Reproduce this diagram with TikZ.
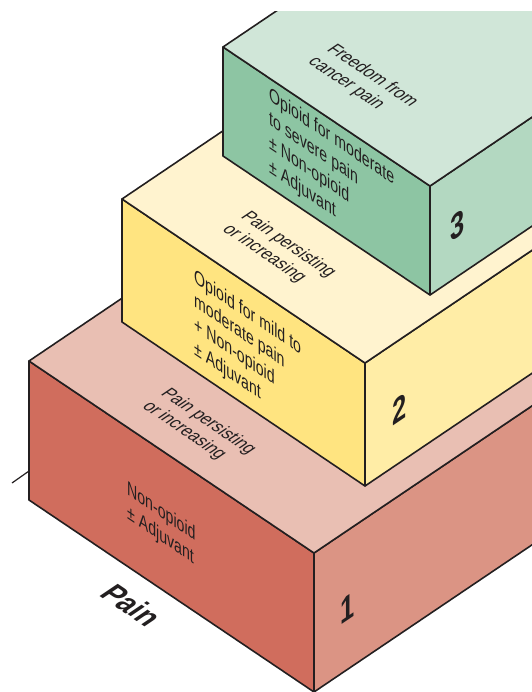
\documentclass[tikz,border=0pt]{standalone}
\usepackage{fontspec}
\setmainfont{Liberation Sans}
\definecolor{ink}{HTML}{231F20}
\definecolor{front1}{HTML}{D06D5D}
\definecolor{side1}{HTML}{DB9484}
\definecolor{top1}{HTML}{E9BFB3}
\definecolor{front2}{HTML}{FFE480}
\definecolor{side2}{HTML}{FFEDA6}
\definecolor{top2}{HTML}{FFF3CF}
\definecolor{front3}{HTML}{8DC5A3}
\definecolor{side3}{HTML}{B3D8C1}
\definecolor{top3}{HTML}{D0E6D8}

\begin{document}
\begin{tikzpicture}
[x=1bp,y=-1bp,
face/.style={draw=ink,line width=1.6pt,line join=round},
fronttext/.style={cm={0.71,-0.479,0,1,(0,0)},anchor=north west,align=left,inner sep=0pt,text=ink,font=\fontsize{20}{24}\selectfont},
toptext/.style={cm={0.71,-0.479,0.829,0.559,(0,0)},align=left,inner sep=0pt,text=ink,font=\fontsize{19}{22.5}\selectfont},
sidenum/.style={cm={0.71,0.479,0,1,(0,0)},inner sep=0pt,text=ink,font=\fontsize{36}{40}\selectfont\bfseries}]
\useasboundingbox (0,0) rectangle (532,692);
\begin{scope}
\clip (0,12) rectangle (532,692);
\coordinate (axisout) at (12,483);
\coordinate (axisin) at (29,471);
\draw[ink,line width=1.2pt] (axisout) -- (axisin);
\foreach \i/\ax/\ay/\bx/\by/\h in {1/29/361/314/553/139,2/122/199/365/363/123,3/223/47/430/186/109}{
\coordinate (a\i) at (\ax,\ay);
\coordinate (b\i) at (\bx,\by);
\coordinate (c\i) at (\bx,\by+\h);
\coordinate (d\i) at (\ax,\ay+\h);
\coordinate (e\i) at (\bx+400,\by+\h-270);
\coordinate (f\i) at (\bx+400,\by-270);
\coordinate (g\i) at (\ax+400,\ay-270);
\filldraw[face,fill=front\i] (a\i) -- (b\i) -- (c\i) -- (d\i) -- cycle;
\filldraw[face,fill=side\i] (b\i) -- (f\i) -- (e\i) -- (c\i) -- cycle;
\filldraw[face,fill=top\i] (a\i) -- (g\i) -- (f\i) -- (b\i) -- cycle;
}
\end{scope}
\node[fronttext] (drug1) at (127,480) {Non-opioid\\± Adjuvant};
\node[fronttext] (drug2) at (194,268) {Opioid for mild to\\moderate pain\\+ Non-opioid\\± Adjuvant};
\node[fronttext] (drug3) at (269,86) {Opioid for moderate\\to severe pain\\± Non-opioid\\± Adjuvant};
\node[toptext] (next1) at (199,428) {Pain persisting\\or increasing};
\node[toptext] (next2) at (279,251) {Pain persisting\\or increasing};
\node[toptext] (goal) at (363,82) {Freedom from\\cancer pain};
\node[sidenum] (num1) at (348,608) {1};
\node[sidenum] (num2) at (400,409) {2};
\node[sidenum] (num3) at (458,225) {3};
\node[toptext,font=\fontsize{32}{38}\selectfont\bfseries] (axislabel) at (132,605) {Pain};
\end{tikzpicture}
\end{document}
